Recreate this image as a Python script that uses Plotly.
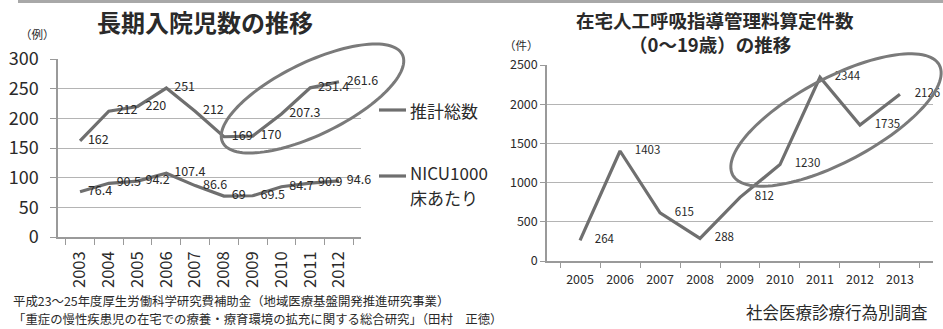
import math
import plotly.graph_objects as go

W, H = 943, 329

# ---- data ----
years_left = ["2003", "2004", "2005", "2006", "2007", "2008", "2009", "2010", "2011", "2012"]
total_est = [162, 212, 220, 251, 212, 169, 170, 207.3, 251.4, 261.6]
nicu_per1000 = [76.4, 90.5, 94.2, 107.4, 86.6, 69, 69.5, 84.7, 90.9, 94.6]

years_right = ["2005", "2006", "2007", "2008", "2009", "2010", "2011", "2012", "2013"]
vent_counts = [264, 1403, 615, 288, 812, 1230, 2344, 1735, 2126]

left_yticks = [0, 50, 100, 150, 200, 250, 300]
right_yticks = [0, 500, 1000, 1500, 2000, 2500]

FONT = "Noto Sans CJK JP"
LINE = "#6f6f6f"
GRID = "#b4b4b4"
AX = "#9a9a9a"
TXT = "#2a2a2a"


def px(x):
    return x / W


def py(y):
    return 1 - y / H


def fmt(v):
    return ("%g" % v)


fig = go.Figure()

for vals in (total_est, nicu_per1000):
    fig.add_trace(go.Scatter(
        x=years_left, y=vals, mode="lines+markers+text",
        line=dict(color=LINE, width=3.2),
        marker=dict(size=11, color="rgba(0,0,0,0)"),
        text=[fmt(v) for v in vals], textposition="middle right",
        textfont=dict(family=FONT, size=12.5, color=TXT),
        xaxis="x", yaxis="y", showlegend=False, cliponaxis=False,
    ))

fig.add_trace(go.Scatter(
    x=years_right, y=vent_counts, mode="lines+markers+text",
    line=dict(color=LINE, width=3.2),
    marker=dict(size=22, color="rgba(0,0,0,0)"),
    text=[fmt(v) for v in vent_counts], textposition="middle right",
    textfont=dict(family=FONT, size=11.5, color=TXT),
    xaxis="x2", yaxis="y2", showlegend=False, cliponaxis=False,
))

fig.update_layout(
    width=W, height=H, autosize=False,
    margin=dict(l=0, r=0, t=0, b=0, pad=0, autoexpand=False),
    paper_bgcolor="white", plot_bgcolor="white",
    font=dict(family=FONT, color=TXT),
    xaxis=dict(domain=[px(58), px(361)], type="category", tickson="boundaries",
               ticks="outside", ticklen=6, tickcolor=AX, showline=True, linecolor=AX,
               linewidth=1.5, tickangle=-90, tickfont=dict(size=16.5, color=TXT),
               ticklabelstandoff=6,
               showgrid=False, anchor="y", automargin=False),
    yaxis=dict(domain=[py(237), py(59)], range=[0, 300], tickvals=left_yticks,
               showline=True, linecolor=AX, linewidth=1.5, ticks="outside", ticklen=6,
               tickcolor=AX, gridcolor=GRID, gridwidth=1.2, zeroline=False,
               ticklabelstandoff=8,
               tickfont=dict(size=18, color=TXT), anchor="x", automargin=False),
    xaxis2=dict(domain=[px(547), px(933)], type="category", tickson="boundaries",
                ticks="outside", ticklen=5, tickcolor=AX, showline=True, linecolor=AX,
                linewidth=1.5, tickfont=dict(size=12.5, color=TXT), showgrid=False,
                ticklabelstandoff=6,
                anchor="y2", automargin=False),
    yaxis2=dict(domain=[py(261), py(65)], range=[0, 2500], tickvals=right_yticks,
                showline=True, linecolor=AX, linewidth=1.5, ticks="outside", ticklen=5,
                tickcolor=AX, gridcolor=GRID, gridwidth=1.2, zeroline=False,
                tickfont=dict(size=12.5, color=TXT), anchor="x2", automargin=False),
)


def ellipse_path(cx, cy, a, b, deg, n=120):
    t = math.radians(deg)
    pts = []
    for i in range(n + 1):
        s = 2 * math.pi * i / n
        ex = a * math.cos(s)
        ey = b * math.sin(s)
        X = cx + ex * math.cos(t) + ey * math.sin(t)
        Y = cy - ex * math.sin(t) + ey * math.cos(t)
        pts.append((px(X), py(Y)))
    d = "M " + " L ".join("%.5f,%.5f" % p for p in pts) + " Z"
    return d


shapes = [
    dict(type="rect", xref="paper", yref="paper", x0=px(18), x1=1, y0=py(3), y1=1,
         fillcolor="#a8a8a8", line=dict(width=0)),
    dict(type="path", xref="paper", yref="paper", path=ellipse_path(312.5, 98.5, 100, 36, 26),
         line=dict(color="#7a7a7a", width=3)),
    dict(type="path", xref="paper", yref="paper", path=ellipse_path(836, 120, 117, 42, 28),
         line=dict(color="#7a7a7a", width=3)),
    # legend line samples
    dict(type="line", xref="paper", yref="paper", x0=px(379), x1=px(406), y0=py(110), y1=py(110),
         line=dict(color=LINE, width=3.2)),
    dict(type="line", xref="paper", yref="paper", x0=px(379), x1=px(406), y0=py(176), y1=py(176),
         line=dict(color=LINE, width=3.2)),
]
fig.update_layout(shapes=shapes)

ann = [
    dict(text="<b>長期入院児数の推移</b>", x=px(205), y=py(22), size=24),
    dict(text="（例）", x=px(37), y=py(34), size=11.5),
    dict(text="<b>在宅人工呼吸指導管理料算定件数</b>", x=px(715), y=py(20), size=18.5),
    dict(text="<b>（0〜19歳）の推移</b>", x=px(710), y=py(44), size=18.5),
    dict(text="（件）", x=px(521), y=py(45), size=11.5),
    dict(text="推計総数", x=px(408), y=py(110), size=17, xanchor="left"),
    dict(text="NICU1000", x=px(408), y=py(172), size=17, xanchor="left"),
    dict(text="床あたり", x=px(408), y=py(197), size=17, xanchor="left"),
    dict(text="平成23〜25年度厚生労働科学研究費補助金（地域医療基盤開発推進研究事業）",
         x=px(11), y=py(301), size=12.4, xanchor="left"),
    dict(text="「重症の慢性疾患児の在宅での療養・療育環境の拡充に関する総合研究」（田村　正徳）",
         x=px(11), y=py(319), size=12.4, xanchor="left"),
    dict(text="社会医療診療行為別調査", x=px(930), y=py(312), size=16.5, xanchor="right"),
]
fig.update_layout(annotations=[
    dict(text=a["text"], x=a["x"], y=a["y"], xref="paper", yref="paper",
         xanchor=a.get("xanchor", "center"), yanchor="middle", showarrow=False,
         font=dict(family=FONT, size=a["size"], color=TXT))
    for a in ann
])

fig.write_html("out.html")
